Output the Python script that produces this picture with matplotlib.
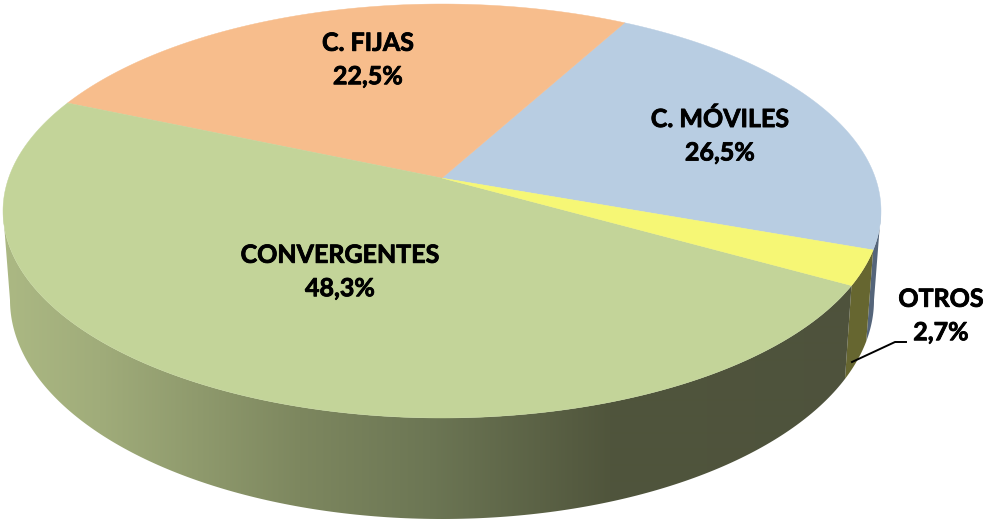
import numpy as np
import matplotlib
matplotlib.use("Agg")
import matplotlib.pyplot as plt
import matplotlib.patheffects as pe
from matplotlib.patches import Polygon

# slice sizes as drawn (the printed labels of the two upper slices are swapped in the source)
slice_names = ["C. MÓVILES", "C. FIJAS", "CONVERGENTES", "OTROS"]
drawn_sizes = [22.5, 26.5, 48.3, 2.7]
label_values = ["26,5%", "22,5%", "48,3%", "2,7%"]
top_colors = ["#B8CDE2", "#F7BD8C", "#C3D499", "#F6F775"]
label_pos = [(720, 136), (368, 60), (340, 272), (941, 316)]

# colour of the green wall going left to right
wall_x = [0, 100, 300, 430, 610, 900]
wall_r = [172, 160, 125, 108, 80, 78]
wall_g = [185, 172, 135, 118, 85, 82]
wall_b = [132, 122, 95, 84, 60, 60]

START = -19.7  # degrees
C = 0.159      # how far the pie tip sits above the middle of the ellipse
TANGENT = np.degrees(np.arcsin(C))  # where the wall starts to show at both sides


def rim(theta, cx, cy, a, b):
    # circle seen in perspective, theta is the real angle around the pie
    t = np.radians(theta)
    d = 1 + C * np.sin(t)
    u = np.sqrt(1 - C ** 2) * np.cos(t) / d
    v = (np.sin(t) + C) / d
    return cx + a * u, cy - b * v


def top_rim(theta):
    return rim(theta, 442, 211, 439, 207)


def bottom_rim(theta):
    return rim(theta, 442, 300, 432, 219)


def wall_outline(t0, t1):
    th = np.linspace(t0, t1, 200)
    xt, yt = top_rim(th)
    xb, yb = bottom_rim(th)
    return np.column_stack([np.r_[xt, xb[::-1]], np.r_[yt, yb[::-1]]])


fig = plt.figure(figsize=(9.84, 5.2), dpi=100)
ax = fig.add_axes([0, 0, 1, 1])

edges = START + np.concatenate([[0], np.cumsum(drawn_sizes)]) * 3.6

# blue and yellow walls on the right
ax.add_patch(Polygon(wall_outline(edges[0], -TANGENT), closed=True, fc="#55657A", ec="none", zorder=1))
ax.add_patch(Polygon(wall_outline(edges[3], edges[4]), closed=True, fc="#666630", ec="none", zorder=1.1))

# green wall, gradient clipped to the outline
xs_grad = np.arange(984)
grad = np.column_stack([np.interp(xs_grad, wall_x, wall_r),
                        np.interp(xs_grad, wall_x, wall_g),
                        np.interp(xs_grad, wall_x, wall_b)]) / 255
green_wall = Polygon(wall_outline(180 + TANGENT, edges[3]), closed=True, fc="none", ec="none")
ax.add_patch(green_wall)
img = ax.imshow(grad[np.newaxis, :, :], extent=(0, 984, 520, 0), aspect="auto", zorder=1.2, interpolation="bilinear")
img.set_clip_path(green_wall)

ax.set_xlim(0, 984)
ax.set_ylim(520, 0)
ax.axis("off")

# top face
tip = (442, 211 - 207 * C)
for i in range(len(drawn_sizes)):
    th = np.linspace(edges[i], edges[i + 1], 200)
    xs, ys = top_rim(th)
    ax.fill(np.r_[tip[0], xs], np.r_[tip[1], ys], color=top_colors[i], lw=0.3, zorder=2)

# labels
for name, val, pos in zip(slice_names, label_values, label_pos):
    ax.text(pos[0], pos[1], name + "\n" + val, ha="center", va="center", fontsize=18,
            fontweight="bold", family="Lato", color="black", linespacing=1.55, zorder=3,
            path_effects=[pe.withStroke(linewidth=0.6, foreground="black")])

# leader line for OTROS
ax.plot([852, 895, 906], [362, 342, 342], color="black", lw=1.4, zorder=3)

fig.savefig("out.png", dpi=100)
plt.close(fig)
